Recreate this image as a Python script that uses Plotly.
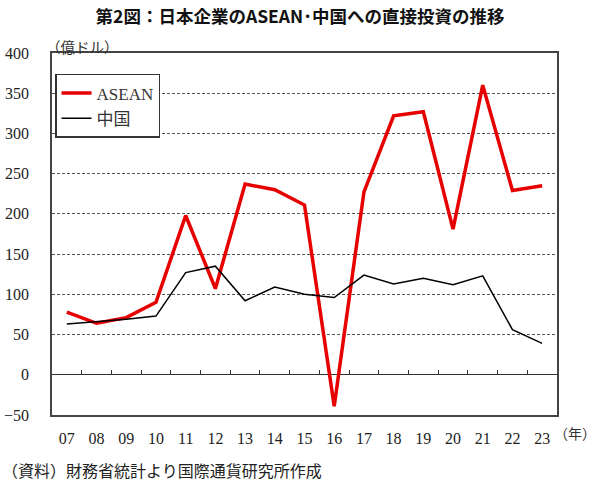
import plotly.graph_objects as go

years = ["07", "08", "09", "10", "11", "12", "13", "14", "15", "16",
         "17", "18", "19", "20", "21", "22", "23"]
asean = [78, 64, 71, 90, 198, 107, 237, 230, 211, -39,
         227, 322, 327, 181, 360, 229, 235]
china = [63, 66, 69, 73, 127, 135, 92, 109, 100, 96,
         124, 113, 120, 112, 123, 56, 39]

serif = "Liberation Serif, Noto Sans CJK JP, serif"
sans = "Noto Sans CJK JP, sans-serif"
y_min, y_max = -50, 400

fig = go.Figure()
fig.add_trace(go.Scatter(x=years, y=asean, name="ASEAN", mode="lines",
                         line=dict(color="#e60000", width=3.5)))
fig.add_trace(go.Scatter(x=years, y=china, name="中国", mode="lines",
                         line=dict(color="black", width=1.5)))
# invisible trace on the second x axis, which only draws the ticks on y=0
fig.add_trace(go.Scatter(x=years, y=china, xaxis="x2", showlegend=False,
                         mode="markers", opacity=0, hoverinfo="skip"))

fig.update_layout(
    width=600, height=491,
    margin=dict(l=52, r=43, t=53, b=76, autoexpand=False),
    paper_bgcolor="white", plot_bgcolor="white",
    font=dict(family=serif, size=15, color="#222"),
    title=dict(text="第2図：日本企業のASEAN･中国への直接投資の推移",
               x=0.5, xanchor="center", y=0.965, yanchor="middle",
               font=dict(family=sans, size=17.5, weight=600, color="#111")),
    xaxis=dict(type="category", range=[-0.5, 16.5], showgrid=False,
               showline=True, mirror=True, linecolor="#444", linewidth=1.5,
               ticks="", ticklabelstandoff=8,
               tickfont=dict(family=serif, size=16, color="#222")),
    xaxis2=dict(type="category", overlaying="x", range=[-0.5, 16.5],
                anchor="free", position=(0 - y_min) / (y_max - y_min),
                showline=False, ticks="inside", ticklen=5, tickcolor="#333",
                tickwidth=1, tickson="boundaries", showticklabels=False,
                showgrid=False),
    yaxis=dict(range=[y_min, y_max], dtick=50, showgrid=True,
               gridcolor="#555", gridwidth=1, griddash="3px,2px",
               zeroline=True, zerolinecolor="#333", zerolinewidth=1,
               showline=True, mirror=True, linecolor="#444", linewidth=1.5,
               ticks="", ticklabelstandoff=18,
               tickfont=dict(family=serif, size=16, color="#222")),
    legend=dict(x=0.006, y=0.942, xanchor="left", yanchor="top",
                bgcolor="white", bordercolor="#333", borderwidth=1.5,
                font=dict(family=serif, size=17, color="#333")),
    showlegend=True,
)

fig.add_annotation(text="（億ドル）", xref="paper", yref="paper",
                   x=-0.016, y=1.017, xanchor="left", yanchor="middle",
                   showarrow=False, font=dict(family=sans, size=14.5, color="#333"))
fig.add_annotation(text="（年）", xref="paper", yref="paper",
                   x=1.081, y=-0.05, xanchor="right", yanchor="middle",
                   showarrow=False, font=dict(family=sans, size=14, color="#333"))
fig.add_annotation(text="（資料）財務省統計より国際通貨研究所作成", xref="paper", yref="paper",
                   x=-0.103, y=-0.152, xanchor="left", yanchor="middle",
                   showarrow=False, font=dict(family=sans, size=16, color="#222"))

# drop the default 8px page margin so the figure sits at the window corner
fig.write_html("out.html", config={"displayModeBar": False},
               post_script="document.body.style.margin = '0';")
